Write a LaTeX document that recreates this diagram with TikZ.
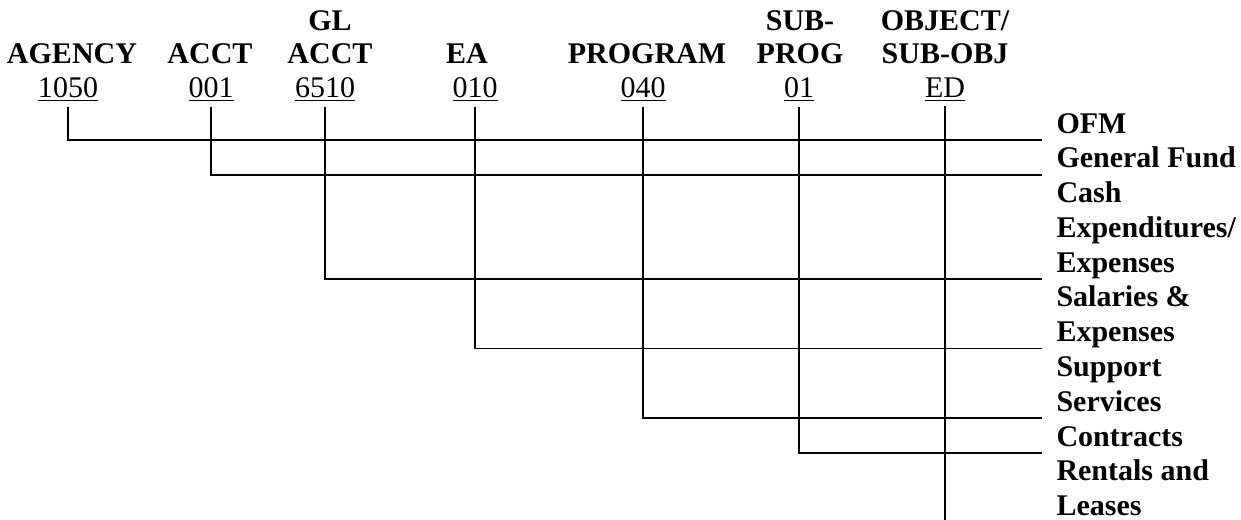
\documentclass[tikz,border=0pt]{standalone}
\usepackage{fontspec}
\setmainfont{Liberation Serif}
\usetikzlibrary{positioning}
\tikzset{head/.style={font=\fontsize{12}{13.2}\selectfont\bfseries, align=center, anchor=base, inner sep=0pt},
  code/.style={font=\fontsize{12}{14}\selectfont, anchor=base, inner xsep=0pt, inner ysep=1.5pt},
  item/.style={font=\fontsize{12}{13.9}\selectfont\bfseries, align=left, anchor=base west, inner sep=0pt},
  link/.style={line width=0.75pt}}

\begin{document}
\begin{tikzpicture}[x=0.4pt,y=-0.4pt]
        \useasboundingbox (0,0) rectangle (1241,520);
        % Field names across the top (anchored on their last line)
        \node[head] (hAgency) at (72,64) {AGENCY};
        \node[head] (hAcct) at (210,64) {ACCT};
        \node[head] (hGl) at (330,64) {GL\\ACCT};
        \node[head] (hEa) at (467,64) {EA};
        \node[head] (hProg) at (647,64) {PROGRAM};
        \node[head] (hSub) at (800,64) {SUB-\\PROG};
        \node[head] (hObj) at (945,64) {OBJECT/\\SUB-OBJ};

        % Coded values under the names
        \node[code] (n1050) at (68,97) {\underline{1050}};
        \node[code] (n001) at (211,97) {\underline{001}};
        \node[code] (n6510) at (325,97) {\underline{6510}};
        \node[code] (n010) at (475,97) {\underline{010}};
        \node[code] (n040) at (643,97) {\underline{040}};
        \node[code] (n01) at (799,97) {\underline{01}};
        \node[code] (nEd) at (945,97) {\underline{ED}};

        % Meanings down the right side (anchored on their last line)
        \node[item] (lOfm) at (1056,133) {OFM};
        \node[item] (lGen) at (1056,167.8) {General Fund};
        \node[item] (lCash) at (1056,272.2) {Cash\\Expenditures/\\Expenses};
        \node[item] (lSal) at (1056,341.7) {Salaries \&\\Expenses};
        \node[item] (lSup) at (1056,411.3) {Support\\Services};
        \node[item] (lCon) at (1056,446) {Contracts};
        \node[item] (lRent) at (1056,515.6) {Rentals and\\Leases};

        % Ends of the leader lines
        \coordinate (eOfm) at (1042,140);
        \coordinate (eGen) at (1042,175);
        \coordinate (eCash) at (1042,279);
        \coordinate (eSal) at (1042,348.5);
        \coordinate (eSup) at (1042,418);
        \coordinate (eCon) at (1042,453);
        \coordinate (eRent) at (945,520);

        % Leader lines from each value to its meaning
        \draw[link] (n1050.south) |- (eOfm);
        \draw[link] (n001.south) |- (eGen);
        \draw[link] (n6510.south) |- (eCash);
        \draw[link] (n010.south) |- (eSal);
        \draw[link] (n040.south) |- (eSup);
        \draw[link] (n01.south) |- (eCon);
        \draw[link] (nEd.south) -- (eRent);
    \end{tikzpicture}
\end{document}
